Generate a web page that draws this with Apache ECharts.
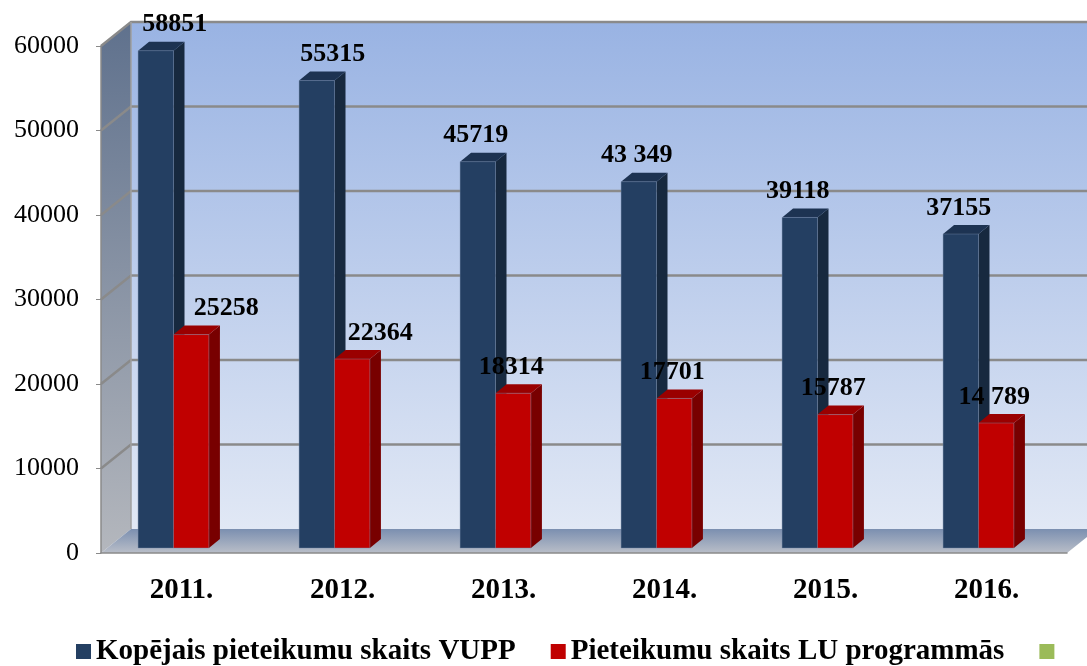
<!DOCTYPE html>
<html>
<head>
<meta charset="utf-8">
<script src="https://cdn.jsdelivr.net/npm/echarts@6/dist/echarts.min.js"></script>
<style>
  html, body { margin: 0; padding: 0; background: #fff; }
  #main { width: 1087px; height: 666px; }
</style>
</head>
<body>
<div id="main"></div>
<script>
// dati
const years = ['2011.', '2012.', '2013.', '2014.', '2015.', '2016.'];
const vuppValues = [58851, 55315, 45719, 43349, 39118, 37155];
const luValues = [25258, 22364, 18314, 17701, 15787, 14789];
const vuppLabels = ['58851', '55315', '45719', '43 349', '39118', '37155'];
const luLabels = ['25258', '22364', '18314', '17701', '15787', '14 789'];
const yTicks = [0, 10000, 20000, 30000, 40000, 50000, 60000];
const seriesNames = ['Kopējais pieteikumu skaits VUPP', 'Pieteikumu skaits LU programmās', ' '];

// 3D izskats
const DX = 30, DY = -24;      // sienas dziļums
const SX = 11, SY = -9;       // stabiņa dziļums
const barNudge = [[21, 18, 0, 0, 0, 0], [37, 30, 0, 0, 0, 0]];
const faceColors = [
  { front: '#243f62', side: '#17293f', top: '#1d3352' },
  { front: '#c00000', side: '#780000', top: '#9a0000' }
];
const serif = 'Liberation Serif';

function wallsRender(params, api) {
  const cs = params.coordSys;
  const x = cs.x, y = cs.y, w = cs.width, h = cs.height;
  const children = [];
  // aizmugurējā siena
  children.push({
    type: 'rect',
    shape: { x: x + DX, y: y + DY, width: w, height: h },
    style: {
      fill: new echarts.graphic.LinearGradient(0, 0, 0, 1, [
        { offset: 0, color: '#99b3e3' },
        { offset: 1, color: '#e1e8f5' }
      ])
    }
  });
  // kreisā siena
  children.push({
    type: 'polygon',
    shape: { points: [[x, y], [x + DX, y + DY], [x + DX, y + h + DY], [x, y + h]] },
    style: {
      fill: new echarts.graphic.LinearGradient(0, 0, 0, 1, [
        { offset: 0, color: '#5f718d' },
        { offset: 1, color: '#b4b7bd' }
      ])
    }
  });
  // grīda
  children.push({
    type: 'polygon',
    shape: { points: [[x, y + h], [x + DX, y + h + DY], [x + w + DX, y + h + DY], [x + w, y + h]] },
    style: {
      fill: new echarts.graphic.LinearGradient(0, 0, 0, 1, [
        { offset: 0, color: '#7b8fb0' },
        { offset: 1, color: '#b9bec8' }
      ])
    }
  });
  // režģa līnijas
  yTicks.forEach(function (t) {
    const yy = api.coord([0, t])[1];
    if (t > 0) {
      children.push({
        type: 'polyline',
        shape: { points: [[x, yy], [x + DX, yy + DY], [x + w + DX, yy + DY]] },
        style: { stroke: '#8a8a8a', lineWidth: 2.5, fill: null }
      });
    }
  });
  children.push({
    type: 'line',
    shape: { x1: x + DX, y1: y + DY, x2: x + DX, y2: y + h + DY },
    style: { stroke: '#a0a0a0', lineWidth: 1.5 }
  });
  return { type: 'group', silent: true, children: children };
}

function makeBarRender(s, labels) {
  return function (params, api) {
    const i = api.value(0);
    const v = api.value(1);
    const top = api.coord([i, v]);
    const base = api.coord([i, 0]);
    const bw = api.size([1, 0])[0];
    const w = bw * 0.22;
    const x0 = top[0] - 8 - w + s * w;
    const yT = top[1] - 5;
    const yB = base[1] - 5;
    const c = faceColors[s];
    return {
      type: 'group',
      children: [
        {
          type: 'polygon',
          shape: { points: [[x0 + w, yT], [x0 + w + SX, yT + SY], [x0 + w + SX, yB + SY], [x0 + w, yB]] },
          style: { fill: c.side }
        },
        {
          type: 'polygon',
          shape: { points: [[x0, yT], [x0 + SX, yT + SY], [x0 + w + SX, yT + SY], [x0 + w, yT]] },
          style: { fill: c.top }
        },
        {
          type: 'rect',
          shape: { x: x0, y: yT, width: w, height: yB - yT },
          style: { fill: c.front, stroke: 'rgba(120,140,170,0.5)', lineWidth: 0.8 }
        },
        {
          type: 'text',
          style: {
            x: x0 + w / 2 - 2 + barNudge[s][i],
            y: yT - 26,
            text: labels[i],
            align: 'center',
            verticalAlign: 'middle',
            font: 'bold 26px "' + serif + '"',
            fill: '#000'
          }
        }
      ]
    };
  };
}

const myChart = echarts.init(document.getElementById('main'));
const option = {
  backgroundColor: '#fff',
  animation: false,
  grid: { left: 101, right: 20, top: 46, bottom: 113 },
  legend: {
    data: seriesNames,
    top: 632,
    left: 71,
    icon: 'rect',
    itemWidth: 15,
    itemHeight: 15,
    itemGap: 35,
    textStyle: { fontFamily: serif, fontWeight: 'bold', fontSize: 29, color: '#000' }
  },
  xAxis: {
    type: 'category',
    data: years,
    axisLine: { lineStyle: { color: '#8a8a8a', width: 1.5 } },
    axisTick: { length: 8, lineStyle: { color: '#8a8a8a' } },
    axisLabel: { margin: 23, fontFamily: serif, fontWeight: 'bold', fontSize: 29, color: '#000' }
  },
  yAxis: {
    type: 'value',
    min: 0,
    max: 60000,
    interval: 10000,
    axisLine: { show: true, lineStyle: { color: '#8a8a8a', width: 1.5 } },
    axisTick: { show: true, length: 5, lineStyle: { color: '#8a8a8a' } },
    splitLine: { show: false },
    axisLabel: {
      margin: 22,
      fontFamily: serif,
      fontSize: 26,
      color: '#000',
      formatter: function (v) { return String(v); }
    }
  },
  series: [
    {
      type: 'custom',
      name: 'walls',
      renderItem: wallsRender,
      data: [[0, 0]],
      silent: true,
      z: 0
    },
    {
      type: 'custom',
      name: seriesNames[0],
      itemStyle: { color: '#243f62' },
      renderItem: makeBarRender(0, vuppLabels),
      data: vuppValues.map(function (v, i) { return [i, v]; }),
      encode: { x: 0, y: 1 },
      z: 2
    },
    {
      type: 'custom',
      name: seriesNames[1],
      itemStyle: { color: '#c00000' },
      renderItem: makeBarRender(1, luLabels),
      data: luValues.map(function (v, i) { return [i, v]; }),
      encode: { x: 0, y: 1 },
      z: 3
    },
    {
      type: 'bar',
      name: seriesNames[2],
      itemStyle: { color: '#9bbb59' },
      data: []
    }
  ]
};
option && myChart.setOption(option);
</script>
</body>
</html>
